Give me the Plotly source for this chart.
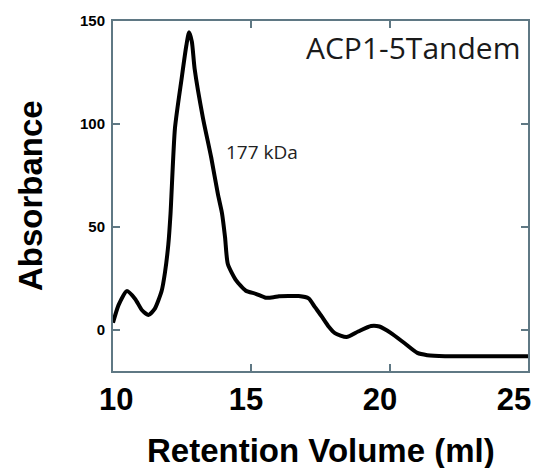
import plotly.graph_objects as go

# Chromatogram trace (retention volume in ml, absorbance)
volume_ml = [10.0, 10.2, 10.5, 10.8, 11.05, 11.28, 11.5, 11.76, 11.88, 12.0, 12.08, 12.24,
             12.48, 12.65, 12.75, 12.85, 12.95, 13.25, 13.55, 13.79, 13.94, 14.05, 14.15,
             14.45, 14.8, 15.16, 15.52, 15.8, 16.0, 16.4, 16.71, 17.07, 17.3, 17.55, 17.8,
             18.02, 18.44, 18.86, 19.33, 19.63, 20.05, 20.53, 21.0, 21.36, 22.0, 25.0]
absorbance = [3.4, 12.0, 18.8, 15.0, 9.5, 7.2, 10.0, 19.0, 28.0, 41.5, 56.6, 98.0,
              122.0, 138.0, 144.5, 140.0, 126.8, 103.0, 83.7, 66.0, 56.6, 45.0, 32.0,
              24.0, 19.0, 17.5, 15.6, 15.8, 16.3, 16.4, 16.4, 15.3, 11.0, 6.4, 1.5,
              -1.6, -3.5, -0.8, 1.9, 1.6, -1.6, -6.4, -11.2, -12.3, -12.8, -12.8]

x_ticks = [10, 15, 20, 25]
x_tick_text = ["\u00a0\u00a0\u00a0\u00a010", "\u00a0\u00a015", "\u00a020", "25"]
y_ticks = [0, 50, 100, 150]

sample_label = "ACP1-5Tandem"
peak_label = "177 kDa"
x_title = "Retention Volume (ml)"
y_title = "Absorbance"

axis_color = "#5f7884"

fig = go.Figure()
fig.add_trace(go.Scatter(
    x=volume_ml, y=absorbance, mode="lines",
    line=dict(color="black", width=4, shape="spline", smoothing=0.6),
    showlegend=False, hoverinfo="skip",
))

fig.update_layout(
    width=527, height=460,
    margin=dict(l=104.5, r=4, t=12.5, b=96.5, pad=0),
    paper_bgcolor="white", plot_bgcolor="white",
    font=dict(family="Liberation Sans, Arial, sans-serif", color="black"),
)

fig.update_xaxes(
    range=[10, 25.0001], tickvals=x_ticks, ticktext=x_tick_text,
    showgrid=False, zeroline=False,
    showline=True, linecolor=axis_color, linewidth=2, mirror="allticks",
    ticks="inside", ticklen=7, tickwidth=1.5, tickcolor=axis_color,
    tickfont=dict(size=31, family="Liberation Sans, Arial", color="black", weight="bold"),
    ticklabelstandoff=0, ticklabelshift=-14,
)
fig.update_yaxes(
    range=[-20, 150], tickvals=y_ticks, ticktext=[str(v) for v in y_ticks],
    showgrid=False, zeroline=False,
    showline=True, linecolor=axis_color, linewidth=2, mirror="allticks",
    ticks="inside", ticklen=7, tickwidth=1.5, tickcolor=axis_color,
    tickfont=dict(size=15, family="Liberation Sans, Arial", color="black", weight="bold"),
    ticklabelstandoff=3,
)

fig.add_annotation(
    text=x_title, xref="paper", yref="paper", x=0.5, y=-0.228,
    xanchor="center", yanchor="middle", showarrow=False,
    font=dict(size=33, family="Liberation Sans, Arial", color="black", weight="bold"),
)
fig.add_annotation(
    text=y_title, xref="paper", yref="paper", x=-0.2, y=0.5,
    xanchor="center", yanchor="middle", showarrow=False, textangle=-90,
    font=dict(size=33, family="Liberation Sans, Arial", color="black", weight="bold"),
)
fig.add_annotation(
    text=sample_label, xref="paper", yref="paper", x=0.985, y=0.925,
    xanchor="right", yanchor="middle", showarrow=False,
    font=dict(size=30, family="Open Sans", color="#1a1a1a"),
)
fig.add_annotation(
    text=peak_label, x=14.02, y=86.5, xref="x", yref="y",
    xanchor="left", yanchor="middle", showarrow=False,
    font=dict(size=19, family="Open Sans", color="#222222"),
)

fig.write_html("out.html")
